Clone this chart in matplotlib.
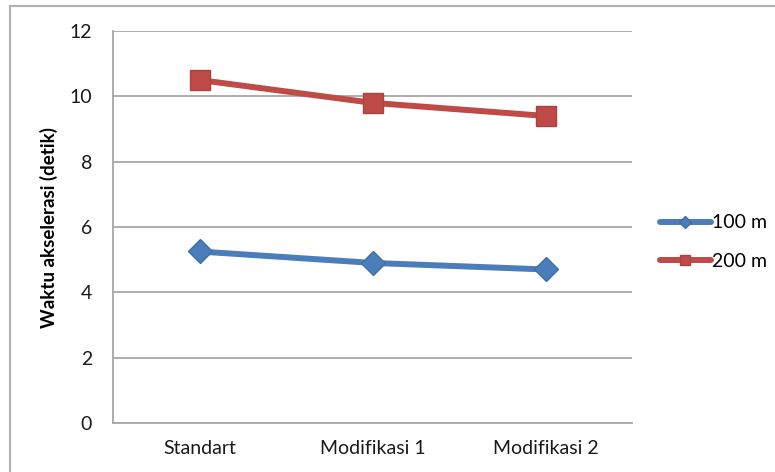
import matplotlib
matplotlib.use("Agg")
import matplotlib.pyplot as plt
from matplotlib.patches import Rectangle

categories = ["Standart", "Modifikasi 1", "Modifikasi 2"]
series_100 = [5.25, 4.9, 4.7]
series_200 = [10.5, 9.8, 9.4]
y_ticks = [0, 2, 4, 6, 8, 10, 12]

plt.rcParams['font.family'] = ['Lato', 'DejaVu Sans']

fig = plt.figure(figsize=(7.75, 4.72), dpi=100)
fig.patches.append(Rectangle((10 / 775, -0.1), 1.2, (472 - 6) / 472 + 0.1,
                             transform=fig.transFigure, fill=False,
                             edgecolor="#b0b0b0", linewidth=1.5))
ax = fig.add_axes([113 / 775, 49 / 472, 519 / 775, 392 / 472])

x = list(range(len(categories)))
ax.plot(x, series_100, color="#4A7EBB", linewidth=4.3, marker="D", markersize=12,
        markeredgecolor="#3F6FA8", label="100 m", solid_capstyle="round")
ax.plot(x, series_200, color="#BE4B48", linewidth=4.3, marker="s", markersize=14,
        markeredgecolor="#A94240", label="200 m", solid_capstyle="round")

ax.set_xlim(-0.5, 2.5)
ax.set_ylim(0, 12)
ax.set_yticks(y_ticks)
ax.set_xticks(x)
ax.set_xticklabels(categories)
ax.yaxis.grid(True, color="#a6a6a6", linewidth=1.3)
ax.set_axisbelow(True)
for s in ["top", "right"]:
    ax.spines[s].set_visible(False)
for s in ["left", "bottom"]:
    ax.spines[s].set_color("#a6a6a6")
    ax.spines[s].set_linewidth(1.3)
ax.tick_params(axis="both", length=0, labelsize=14, colors="#1a1a1a")
ax.tick_params(axis="y", pad=15)
ax.tick_params(axis="x", pad=12)
ax.set_ylabel("Waktu akselerasi (detik)", fontsize=13.5, fontweight="bold", labelpad=8)

leg = fig.legend(loc="center left", bbox_to_anchor=(660 / 775, (472 - 242) / 472),
                 bbox_transform=fig.transFigure, frameon=False, borderpad=0,
                 borderaxespad=0, fontsize=14, handlelength=2.6, handletextpad=0.05,
                 labelspacing=1.1, markerscale=0.55)

fig.savefig("out.png", dpi=100)
